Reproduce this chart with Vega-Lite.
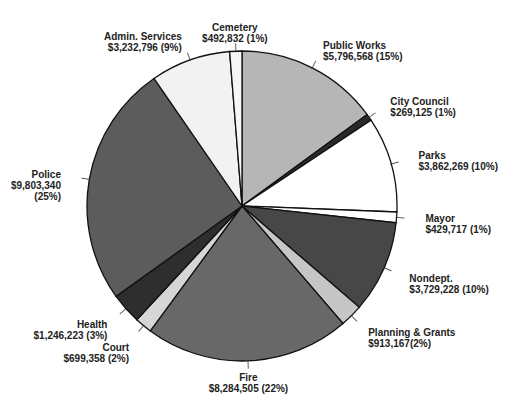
{
  "$schema": "https://vega.github.io/schema/vega-lite/v6.json",
  "width": 484,
  "height": 388,
  "autosize": {"type": "none"},
  "padding": {"left": 0, "top": 12, "right": 29, "bottom": 2},
  "background": "white",
  "view": {"stroke": null},
  "data": {
    "values": [
      {"n": 1, "name": "Public Works", "value": 5796568, "label": "Public Works\n$5,796,568 (15%)"},
      {"n": 2, "name": "City Council", "value": 269125, "label": "City Council\n$269,125 (1%)"},
      {"n": 3, "name": "Parks", "value": 3862269, "label": "Parks\n$3,862,269 (10%)"},
      {"n": 4, "name": "Mayor", "value": 429717, "label": "Mayor\n$429,717 (1%)"},
      {"n": 5, "name": "Nondept.", "value": 3729228, "label": "Nondept.\n$3,729,228 (10%)"},
      {"n": 6, "name": "Planning & Grants", "value": 913167, "label": "Planning & Grants\n$913,167(2%)"},
      {"n": 7, "name": "Fire", "value": 8284505, "label": "Fire\n$8,284,505 (22%)"},
      {"n": 8, "name": "Court", "value": 699358, "label": "Court\n$699,358 (2%)"},
      {"n": 9, "name": "Health", "value": 1246223, "label": "Health\n$1,246,223 (3%)"},
      {"n": 10, "name": "Police", "value": 9803340, "label": "Police\n$9,803,340\n(25%)"},
      {"n": 11, "name": "Admin. Services", "value": 3232796, "label": "Admin. Services\n$3,232,796 (9%)"},
      {"n": 12, "name": "Cemetery", "value": 492832, "label": "Cemetery\n$492,832 (1%)"}
    ]
  },
  "encoding": {
    "theta": {"field": "value", "type": "quantitative", "stack": true},
    "order": {"field": "n", "type": "quantitative"}
  },
  "layer": [
    {
      "mark": {"type": "arc", "outerRadius": 155, "stroke": "#111111", "strokeWidth": 1.3},
      "encoding": {
        "color": {
          "field": "name",
          "type": "nominal",
          "legend": null,
          "scale": {
            "domain": ["Public Works", "City Council", "Parks", "Mayor", "Nondept.", "Planning & Grants", "Fire", "Court", "Health", "Police", "Admin. Services", "Cemetery"],
            "range": ["#b6b6b6", "#2a2a2a", "#ffffff", "#ffffff", "#474747", "#c6c6c6", "#686868", "#d6d6d6", "#2e2e2e", "#5c5c5c", "#f2f2f2", "#f6f6f6"]
          }
        }
      }
    },
    {
      "mark": {
        "type": "text",
        "radius": 159,
        "font": "DejaVu Sans",
        "fontSize": 9,
        "color": "#333333",
        "baseline": "middle",
        "align": "center",
        "angle": {"expr": "(datum.value_start + datum.value_end) / 2 / 38759128 * 360"}
      },
      "encoding": {
        "text": {"value": "|"}
      }
    },
    {
      "mark": {
        "type": "text",
        "radius": {"expr": "166 + 18 * abs(sin(2 * PI * (datum.value_start + datum.value_end) / 2 / 38759128)) + 12 * pow(max(0, cos(2 * PI * (datum.value_start + datum.value_end) / 2 / 38759128)), 8)"},
        "lineBreak": "\n",
        "lineHeight": 11,
        "font": "Liberation Sans",
        "fontSize": 10,
        "fontWeight": "bold",
        "color": "#222222",
        "baseline": {"expr": "abs((datum.value_start + datum.value_end) / 2 / 38759128 - 0.5) < 0.04 ? 'top' : (cos(2 * PI * (datum.value_start + datum.value_end) / 2 / 38759128) < -0.72 ? 'top' : 'middle')"},
        "align": {"expr": "((datum.value_start + datum.value_end) / 2 / 38759128) < 0.03 || ((datum.value_start + datum.value_end) / 2 / 38759128) > 0.97 || abs(((datum.value_start + datum.value_end) / 2 / 38759128) - 0.5) < 0.04 ? 'center' : (((datum.value_start + datum.value_end) / 2 / 38759128) < 0.5 ? 'left' : 'right')"}
      },
      "encoding": {
        "text": {"field": "label", "type": "nominal"}
      }
    }
  ]
}
